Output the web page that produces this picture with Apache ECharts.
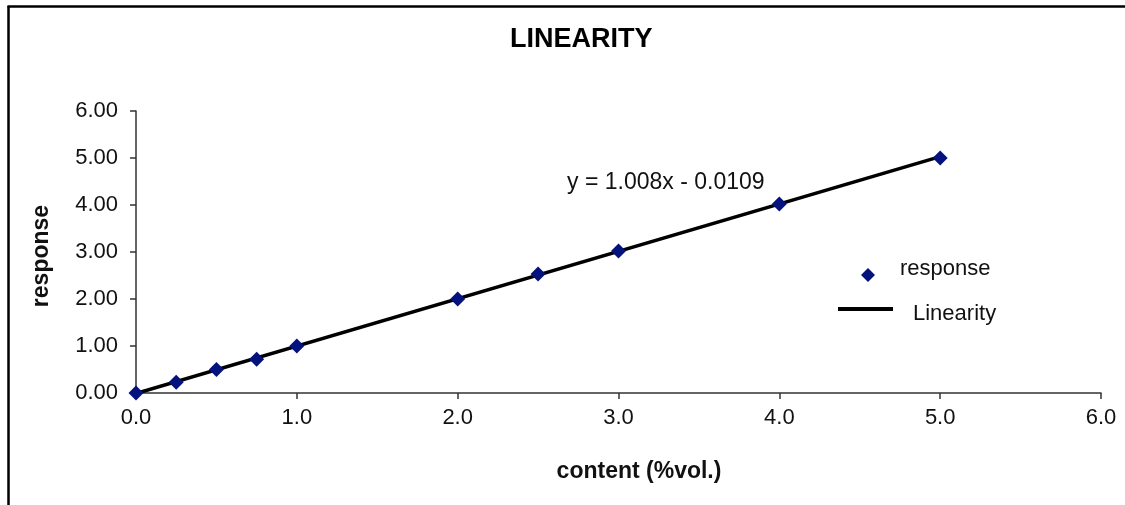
<!DOCTYPE html>
<html>
<head>
<meta charset="utf-8">
<script src="https://cdn.jsdelivr.net/npm/echarts@6/dist/echarts.min.js"></script>
<style>
html,body{margin:0;padding:0;background:#fff;}
#c{width:1125px;height:505px;}
</style>
</head>
<body>
<div id="c"></div>
<script>
const contentX = [0, 0.25, 0.5, 0.75, 1.0, 2.0, 2.5, 3.0, 4.0, 5.0];
const responseY = [0, 0.23, 0.50, 0.72, 1.00, 2.00, 2.53, 3.02, 4.02, 5.00];
const linearityX = [0, 5.0];
const linearityY = [-0.0109, 5.0291];
const xTicks = [0, 1, 2, 3, 4, 5, 6];
const yTicks = [0, 1, 2, 3, 4, 5, 6];
const titleText = 'LINEARITY';
const equationText = 'y = 1.008x - 0.0109';
const legendNames = ['response', 'Linearity'];

const FONT = '"Liberation Sans", Arial, sans-serif';
const chart = echarts.init(document.getElementById('c'), null, {renderer: 'canvas'});
const axisColor = '#333';
const markerColor = '#03127d';

const option = {
  animation: false,
  backgroundColor: '#fff',
  title: {
    text: titleText,
    left: 510, top: 26, padding: 0,
    textStyle: {fontFamily: FONT, fontSize: 27, fontWeight: 'bold', color: '#000'}
  },
  grid: {left: 136, right: 24, top: 111, bottom: 112, containLabel: false},
  xAxis: {
    type: 'value', min: xTicks[0], max: xTicks[xTicks.length - 1], interval: 1,
    axisLine: {show: true, lineStyle: {color: axisColor, width: 1.5}},
    axisTick: {show: true, length: 6, lineStyle: {color: axisColor, width: 1.5}},
    splitLine: {show: false},
    axisLabel: {margin: 14, fontFamily: FONT, fontSize: 22, color: '#111',
      formatter: v => v.toFixed(1)}
  },
  yAxis: {
    type: 'value', min: yTicks[0], max: yTicks[yTicks.length - 1], interval: 1,
    axisLine: {show: true, lineStyle: {color: axisColor, width: 1.5}},
    axisTick: {show: true, length: 6, lineStyle: {color: axisColor, width: 1.5}},
    splitLine: {show: false},
    axisLabel: {margin: 18, fontFamily: FONT, fontSize: 22, color: '#111',
      formatter: v => v.toFixed(2)}
  },
  series: [
    {
      name: legendNames[1], type: 'line',
      data: linearityX.map((x, i) => [x, linearityY[i]]),
      showSymbol: false, symbol: 'none',
      lineStyle: {color: '#000', width: 3.5},
      itemStyle: {color: '#000'},
      z: 2
    },
    {
      name: legendNames[0], type: 'scatter',
      data: contentX.map((x, i) => [x, responseY[i]]),
      symbol: 'diamond', symbolSize: 15,
      itemStyle: {color: markerColor, opacity: 1},
      z: 3
    }
  ],
  graphic: [
    {type: 'line', shape: {x1: 8.5, y1: 6, x2: 8.5, y2: 505}, style: {stroke: '#000', lineWidth: 2.5}},
    {type: 'line', shape: {x1: 7.5, y1: 6.5, x2: 1125, y2: 6.5}, style: {stroke: '#000', lineWidth: 2.5}},
    {type: 'text', x: 567, y: 183,
      style: {text: equationText, font: '23px ' + FONT, fill: '#111', textAlign: 'left', textVerticalAlign: 'middle'}},
    {type: 'text', x: 42, y: 256, rotation: Math.PI / 2,
      style: {text: 'response', font: 'bold 23px ' + FONT, fill: '#111', textAlign: 'center', textVerticalAlign: 'middle'}},
    {type: 'text', x: 639, y: 472,
      style: {text: 'content (%vol.)', font: 'bold 23px ' + FONT, fill: '#111', textAlign: 'center', textVerticalAlign: 'middle'}},
    // legend
    {type: 'polygon', shape: {points: [[868, 268], [875, 275], [868, 282], [861, 275]]}, style: {fill: markerColor}},
    {type: 'text', x: 900, y: 269,
      style: {text: legendNames[0], font: '22px ' + FONT, fill: '#111', textAlign: 'left', textVerticalAlign: 'middle'}},
    {type: 'line', shape: {x1: 838, y1: 309, x2: 893, y2: 309}, style: {stroke: '#000', lineWidth: 4}},
    {type: 'text', x: 913, y: 314,
      style: {text: legendNames[1], font: '22px ' + FONT, fill: '#111', textAlign: 'left', textVerticalAlign: 'middle'}}
  ]
};
chart.setOption(option);
</script>
</body>
</html>
